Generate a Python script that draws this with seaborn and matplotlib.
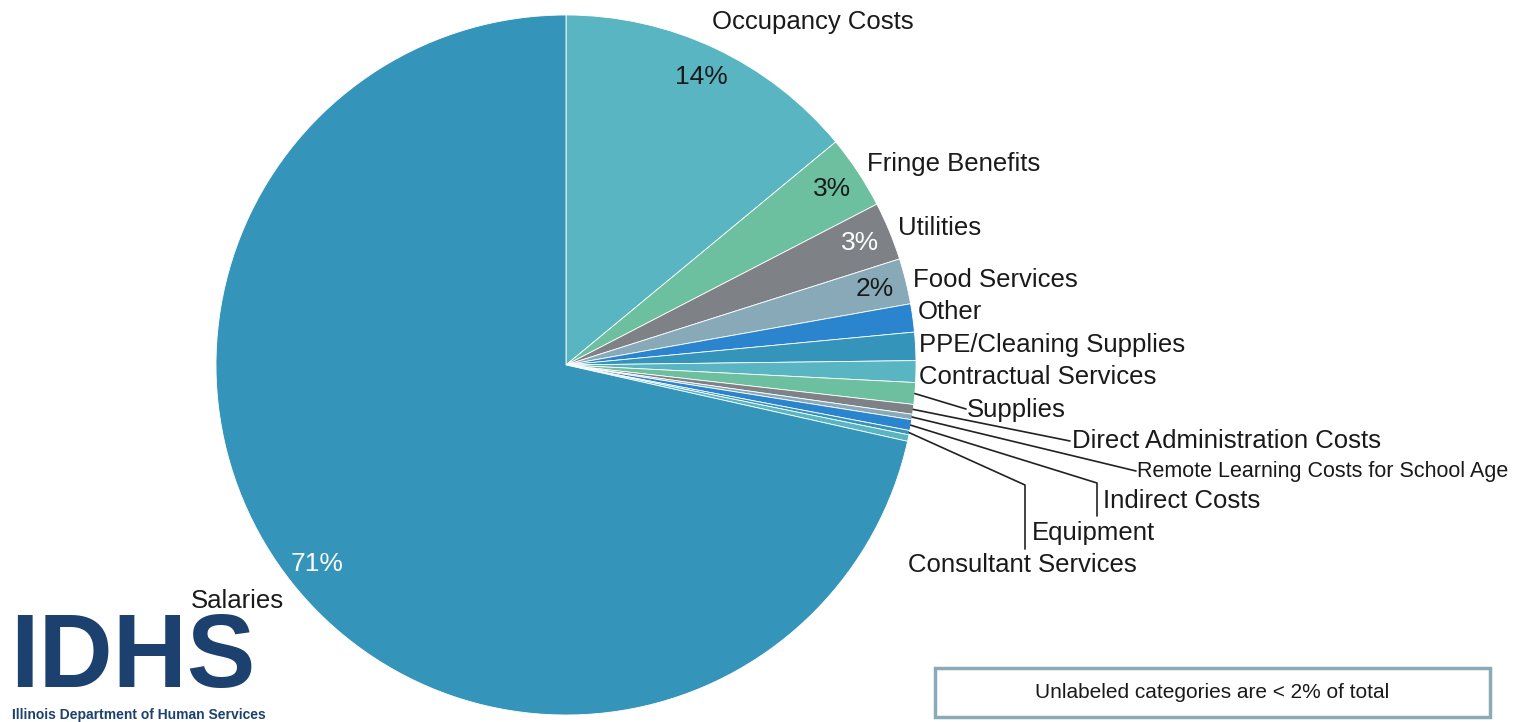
import numpy as np
import matplotlib
matplotlib.use("Agg")
import matplotlib.pyplot as plt
import seaborn as sns

# data, in drawing order (clockwise from 12 o'clock)
categories = ['Occupancy Costs', 'Fringe Benefits', 'Utilities', 'Food Services', 'Other',
              'PPE/Cleaning Supplies', 'Contractual Services', 'Supplies',
              'Direct Administration Costs', 'Remote Learning Costs for School Age',
              'Indirect Costs', 'Equipment', 'Consultant Services', 'Salaries']
shares = [14.0, 3.4, 2.7, 2.1, 1.3, 1.3, 1.0, 1.0, 0.45, 0.25, 0.5, 0.2, 0.3, 71.5]
pct_text = ['14%', '3%', '3%', '2%', '', '', '', '', '', '', '', '', '', '71%']

sns.set_theme(style="white")
plt.rcParams['font.family'] = ['Liberation Sans', 'DejaVu Sans']

pal = ['#3594BA', '#58B5C1', '#6CBF9F', '#7E8287', '#88AAB8', '#2B84CE']
colors = [pal[(i + 1) % 6] for i in range(len(categories))]
colors[-1] = pal[0]

fig = plt.figure(figsize=(15.21, 7.22), dpi=100)
ax = fig.add_axes([0, 0, 1, 1])

cx, cy, R = 566, -365, 350
wedges, _ = ax.pie(shares, colors=colors, startangle=90, counterclock=False,
                   center=(cx, cy), radius=R,
                   wedgeprops=dict(edgecolor='white', linewidth=0.6))
ax.set_xlim(0, 1521)
ax.set_ylim(-722, 0)
ax.set_aspect('equal')
ax.axis('off')

# percent labels inside the big slices
pct_col = ['#1a1a1a', '#1a1a1a', 'white', '#1a1a1a'] + ['#1a1a1a'] * 9 + ['white']
for w, t, c in zip(wedges, pct_text, pct_col):
    if not t:
        continue
    a = np.deg2rad((w.theta1 + w.theta2) / 2)
    ax.text(cx + 0.91 * R * np.cos(a), cy + 0.91 * R * np.sin(a), t,
            ha='center', va='center', fontsize=19, color=c)

# category labels (pixel positions of the text, left edge / center y)
label_pos = [(712, 22), (867, 164), (898, 228), (913, 280), (918, 312), (919, 345),
             (919, 377), (967, 410), (1072, 441), (1137, 471), (1103, 501),
             (1032, 533), (908, 565), (191, 601)]
label_size = [18.5] * 9 + [15.5] + [18.5] * 4
for (x, y), name, fs in zip(label_pos, categories, label_size):
    ax.text(x, -y, name, ha='left', va='center', fontsize=fs, color='#1a1a1a')

# leader lines for the thin slices
leaders = {7: [(966, 409)], 8: [(1070, 441)], 9: [(1136, 471)],
           10: [(1097, 483), (1097, 516)], 11: [(1025, 485), (1025, 549)]}
for i, pts in leaders.items():
    w = wedges[i]
    a = np.deg2rad((w.theta1 + w.theta2) / 2)
    xs = [cx + R * np.cos(a)] + [p[0] for p in pts]
    ys = [cy + R * np.sin(a)] + [-p[1] for p in pts]
    ax.plot(xs, ys, color='#222222', lw=1.2)

# note box
ax.text(1212, -693, 'Unlabeled categories are < 2% of total', ha='center', va='center',
        fontsize=15, color='#1a1a1a')
ax.add_patch(plt.Rectangle((935, -717), 555, 49, fill=False, edgecolor='#8AAAB8', lw=2.5))

# logo
ax.text(10, -661, 'IDHS', ha='left', va='center', fontsize=74, fontweight='bold',
        color='#1D416E')
ax.text(12, -715, 'Illinois Department of Human Services', ha='left', va='center',
        fontsize=10, fontweight='bold', color='#1D416E')

fig.savefig('out.png', dpi=100, facecolor='white')
